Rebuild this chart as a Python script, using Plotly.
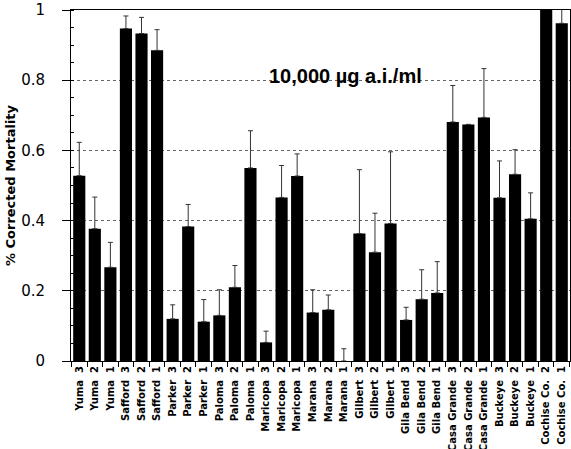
import plotly.graph_objects as go

NB = "\u00a0"
sites = ["Yuma", "Safford", "Parker", "Paloma", "Maricopa", "Marana", "Gilbert",
         "Gila Bend", "Casa Grande", "Buckeye"]
categories = [f"{s.replace(' ', NB)}{NB}{NB}{n}" for s in sites for n in (3, 2, 1)] + \
             [f"Cochise{NB}Co.{NB}{NB}2", f"Cochise{NB}Co.{NB}{NB}1"]

mortality = [0.528, 0.377, 0.267,
             0.947, 0.933, 0.885,
             0.120, 0.383, 0.112,
             0.130, 0.210, 0.550,
             0.053, 0.466, 0.527,
             0.138, 0.146, 0.000,
             0.363, 0.310, 0.392,
             0.117, 0.176, 0.194,
             0.681, 0.674, 0.694,
             0.465, 0.532, 0.405,
             1.020, 0.962]
error_top = [0.623, 0.467, 0.338,
             0.983, 0.979, 0.944,
             0.160, 0.446, 0.175,
             0.203, 0.272, 0.656,
             0.085, 0.557, 0.590,
             0.203, 0.188, 0.035,
             0.545, 0.421, 0.596,
             0.153, 0.260, 0.283,
             0.785, 0.674, 0.833,
             0.570, 0.602, 0.479,
             1.020, 1.050]
err_plus = [round(t - v, 3) for t, v in zip(error_top, mortality)]
err_minus = [0] * len(mortality)

fig = go.Figure()
fig.add_trace(go.Bar(
    x=categories, y=mortality,
    marker=dict(color="black", line=dict(width=0)),
    error_y=dict(type="data", symmetric=False, array=err_plus, arrayminus=err_minus,
                 color="#333333", thickness=1, width=2.5),
    width=0.78,
))

fig.add_annotation(
    text="10,000 µg a.i./ml", x=0.55, y=0.85, xref="paper", yref="paper",
    showarrow=False, font=dict(family="Liberation Sans", size=20, color="black", weight="bold"),
)

fig.update_layout(
    width=571, height=449,
    margin=dict(l=71, r=1, t=10, b=88),
    paper_bgcolor="white", plot_bgcolor="white",
    showlegend=False,
    font=dict(family="DejaVu Sans", color="black"),
)
fig.update_xaxes(
    type="category", range=[-0.53, 31.53], automargin=False,
    showline=True, linecolor="black", linewidth=1, mirror=True,
    ticks="outside", tickson="boundaries", ticklen=5, tickcolor="black",
    tickangle=-90, tickfont=dict(family="DejaVu Sans", size=10, weight="bold"),
    showgrid=False,
)
fig.update_yaxes(
    range=[0, 1], tickvals=[0, 0.2, 0.4, 0.6, 0.8, 1], automargin=False,
    ticktext=["0", "0.2", "0.4", "0.6", "0.8", "1"],
    showline=True, linecolor="black", linewidth=1, mirror=True,
    ticks="outside", ticklen=8, tickcolor="black", ticklabelstandoff=14,
    tickfont=dict(family="DejaVu Sans", size=15),
    showgrid=True, gridcolor="#666666", griddash="dot", gridwidth=1,
    zeroline=False,
    minor=dict(ticks="inside", ticklen=3, dtick=0.05, tickcolor="black", showgrid=False),
    title=dict(text="% Corrected Mortality", font=dict(family="DejaVu Sans", size=13, weight="bold"),
               standoff=2),
)

fig.write_html("out.html", config={"displayModeBar": False},
               post_script="document.body.style.margin='0';")
